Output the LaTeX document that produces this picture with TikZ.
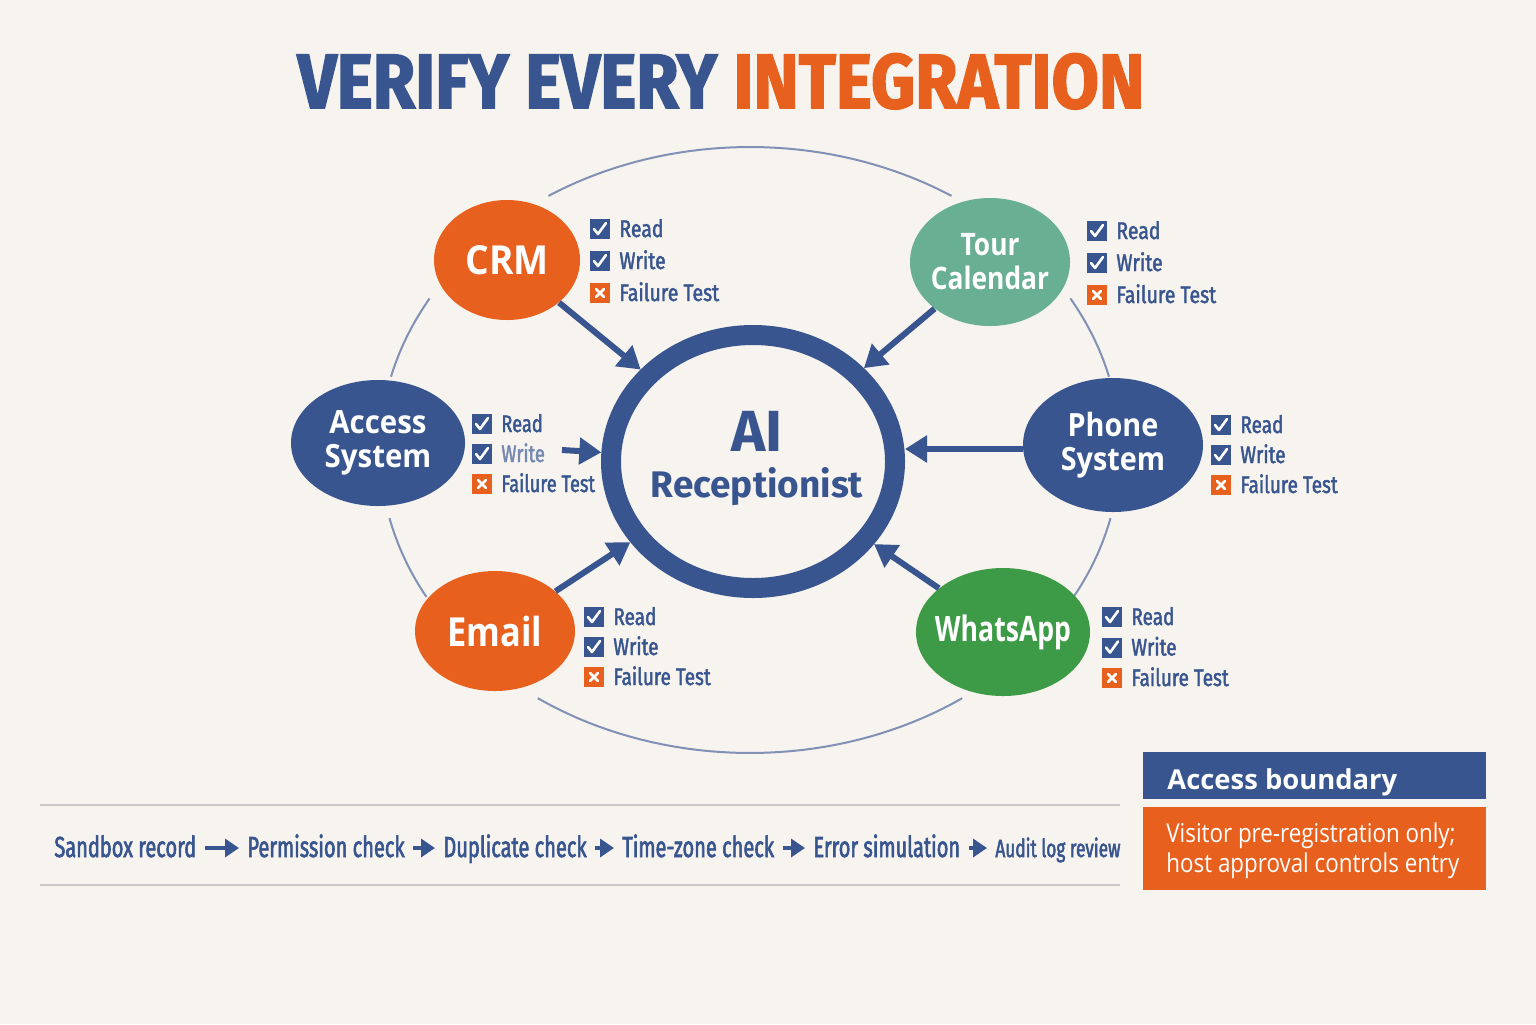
\documentclass[tikz,border=0pt]{standalone}
\usepackage{fontspec}
\usepackage{graphicx}
\setmainfont{Open Sans}
\newfontfamily\titlefont{Fira Sans}[FakeStretch=0.89, FakeBold=2]
\newfontfamily\itemfont{Fira Sans}[FakeStretch=0.81, FakeBold=1.8]
\newfontfamily\itemfontB{Fira Sans}[FakeStretch=0.76, FakeBold=1.8]
\newfontfamily\itemfontC{Fira Sans}[FakeStretch=0.79, FakeBold=1.8]
\newfontfamily\flowfont{Fira Sans}[FakeStretch=0.69, FakeBold=2]
\newfontfamily\aifont{Fira Sans}
\usetikzlibrary{shapes.geometric,arrows.meta}
\definecolor{bgc}{HTML}{F7F3EE}
\definecolor{blueM}{HTML}{38558F}
\definecolor{orangeM}{HTML}{E8601E}
\definecolor{tealM}{HTML}{68AF93}
\definecolor{greenM}{HTML}{3D9B48}
\definecolor{ringc}{HTML}{8190B5}
\definecolor{sepc}{HTML}{C9C9C9}
\newcommand\sx[2]{\scalebox{#1}[1]{#2}}
\tikzset{
  bub/.style={ellipse, inner sep=0pt},
  lbl/.style={text=white, align=center, inner sep=0pt},
  cbox/.style={rectangle, fill=blueM, minimum size=10pt, inner sep=0pt},
  xbox/.style={rectangle, fill=orangeM, minimum size=10pt, inner sep=0pt},
  tick/.style={white, line width=1.3pt, line cap=round, line join=round},
  item/.style={anchor=base west, inner sep=0pt, text=blueM},
  conn/.style={blueM, line width=3pt, -{Triangle[length=11pt,width=13pt]}},
  ringline/.style={ringc, line width=1pt},
  flowtxt/.style={anchor=base west, inner sep=0pt, text=blueM, font=\flowfont\fontsize{14.5pt}{16pt}\selectfont},
  flowarr/.style={blueM, line width=2.2pt, -{Triangle[length=7pt,width=9pt]}},
}
\newcommand\checkrows[6]{%
  \node[cbox] (#1c1) at ({#2+10},{#3}) {};
  \node[cbox] (#1c2) at ({#2+10},{#3+#4}) {};
  \node[xbox] (#1c3) at ({#2+10},{#3+2*#4}) {};
  \draw[tick] ([shift={(-6,0)}]#1c1.center) -- ([shift={(-2,5)}]#1c1.center) -- ([shift={(6,-6)}]#1c1.center);
  \draw[tick] ([shift={(-6,0)}]#1c2.center) -- ([shift={(-2,5)}]#1c2.center) -- ([shift={(6,-6)}]#1c2.center);
  \draw[tick] ([shift={(-4,-4)}]#1c3.center) -- ([shift={(4,4)}]#1c3.center);
  \draw[tick] ([shift={(-4,4)}]#1c3.center) -- ([shift={(4,-4)}]#1c3.center);
  \node[item, font=#6\fontsize{12pt}{14pt}\selectfont] (#1t1) at ({#2+29},{#3+8}) {Read};
  \node[item, font=#6\fontsize{12pt}{14pt}\selectfont#5] (#1t2) at ({#2+29},{#3+#4+8}) {Write};
  \node[item, font=#6\fontsize{12pt}{14pt}\selectfont] (#1t3) at ({#2+29},{#3+2*#4+8}) {Failure Test};
}
\begin{document}
\begin{tikzpicture}[x=0.5pt,y=-0.5pt]
\useasboundingbox (0,0) rectangle (1536,1024);
\fill[bgc] (0,0) rectangle (1536,1024);

% title
\node[anchor=base, inner sep=0pt, font=\titlefont\bfseries\fontsize{38.5pt}{40pt}\selectfont] (title) at (721,108)
  {\textcolor{blueM}{VERIFY EVERY} \textcolor{orangeM}{INTEGRATION}};

% outer ring arcs
\draw[ringline] plot[domain=57:123, samples=40] ({750+370*cos(\x)},{450-303*sin(\x)});
\draw[ringline] plot[domain=150:166, samples=20] ({750+370*cos(\x)},{450-303*sin(\x)});
\draw[ringline] plot[domain=193:209, samples=20] ({750+370*cos(\x)},{450-303*sin(\x)});
\draw[ringline] plot[domain=235:305, samples=40] ({750+370*cos(\x)},{450-303*sin(\x)});
\draw[ringline] plot[domain=14:30, samples=20] ({750+370*cos(\x)},{450-303*sin(\x)});
\draw[ringline] plot[domain=-30:-13, samples=20] ({750+370*cos(\x)},{450-303*sin(\x)});

% center
\node[ellipse, draw=blueM, line width=10pt, minimum width=142pt, minimum height=126.5pt, inner sep=0pt, outer sep=5pt] (ai) at (753,461.5) {};
\node[anchor=base, inner sep=0pt, text=blueM, font=\aifont\bfseries\fontsize{29pt}{30pt}\selectfont] (aiA) at (757,451) {AI};
\node[anchor=base, inner sep=0pt, text=blueM, font=\aifont\bfseries\fontsize{18.5pt}{20pt}\selectfont] (aiB) at (757,497) {Receptionist};

% bubbles
\node[bub, fill=orangeM, minimum width=73pt, minimum height=60pt,
  label={[lbl, font=\bfseries\fontsize{20pt}{22pt}\selectfont]center:\sx{0.93}{CRM}}] (crm) at (507,260) {};
\node[bub, fill=tealM, minimum width=80pt, minimum height=64pt,
  label={[lbl, font=\bfseries\fontsize{15.5pt}{17pt}\selectfont]center:\sx{0.85}{Tour}\\\sx{0.85}{Calendar}}] (tour) at (990,262) {};
\node[bub, fill=blueM, minimum width=87pt, minimum height=63pt,
  label={[lbl, font=\bfseries\fontsize{16pt}{17pt}\selectfont]center:\sx{0.92}{Access}\\\sx{0.92}{System}}] (access) at (378,443) {};
\node[bub, fill=blueM, minimum width=90pt, minimum height=67pt,
  label={[lbl, font=\bfseries\fontsize{16pt}{17pt}\selectfont]center:\sx{0.9}{Phone}\\\sx{0.9}{System}}] (phone) at (1113,445) {};
\node[bub, fill=orangeM, minimum width=80pt, minimum height=60pt,
  label={[lbl, font=\bfseries\fontsize{20pt}{22pt}\selectfont]center:\sx{0.86}{Email}}] (email) at (495,631) {};
\node[bub, fill=greenM, minimum width=87pt, minimum height=64pt,
  label={[lbl, font=\bfseries\fontsize{17.5pt}{19pt}\selectfont]center:\sx{0.76}{WhatsApp}}] (whats) at (1003,632) {};

% checklists
\checkrows{crm}{590}{229}{32}{}{\itemfont}
\checkrows{tour}{1087}{231}{32}{}{\itemfont}
\checkrows{acc}{472}{424}{30}{, text=blueM!70}{\itemfontB}
\checkrows{pho}{1211}{425}{30}{}{\itemfontC}
\checkrows{ema}{584}{617}{30}{}{\itemfontC}
\checkrows{wha}{1102}{617}{30.5}{}{\itemfontC}

% connectors
\coordinate (accA) at (562,450);
\coordinate (phA) at ([yshift=-2pt]phone.west);
\draw[conn] (crm) -- (ai);
\draw[conn] (tour) -- (ai);
\draw[conn] (accA) -- (ai);
\draw[conn] (phA) -- (ai.east |- phA);
\draw[conn] (email) -- (ai);
\draw[conn] (whats) -- (ai);

% bottom flow
\draw[sepc, line width=1pt] (40,805) -- (1120,805);
\draw[sepc, line width=1pt] (40,885) -- (1120,885);
\node[flowtxt] (s1) at (54,857) {Sandbox record};
\node[flowtxt] (s2) at (247,857) {Permission check};
\node[flowtxt] (s3) at (443,857) {Duplicate check};
\node[flowtxt] (s4) at (622,857) {Time-zone check};
\node[flowtxt] (s5) at (813,857) {Error simulation};
\node[flowtxt, font=\flowfont\fontsize{12.5pt}{14pt}\selectfont] (s6) at (995,857) {Audit log review};
\foreach \a/\b in {s1/s2,s2/s3,s3/s4,s4/s5,s5/s6}
  \draw[flowarr] ([shift={(8,-9)}]\a.base east) -- ([shift={(-8,-9)}]\b.base west);

% access boundary
\node[rectangle, fill=blueM, minimum width=171.5pt, minimum height=23.5pt, anchor=north west, inner sep=0pt] (abox) at (1143,752) {};
\node[anchor=base west, inner sep=0pt, text=white, font=\bfseries\fontsize{13.7pt}{16pt}\selectfont] (atitle) at (1167,789) {Access boundary};
\node[rectangle, fill=orangeM, minimum width=171.5pt, minimum height=41.5pt, anchor=north west, inner sep=0pt] (obox) at (1143,807) {};
\node[anchor=base west, inner sep=0pt, text=white, font=\fontsize{13pt}{15pt}\selectfont] (ot1) at (1166,842) {\sx{0.86}{Visitor pre-registration only;}};
\node[anchor=base west, inner sep=0pt, text=white, font=\fontsize{13pt}{15pt}\selectfont] (ot2) at (1166,872) {\sx{0.86}{host approval controls entry}};
\end{tikzpicture}
\end{document}
